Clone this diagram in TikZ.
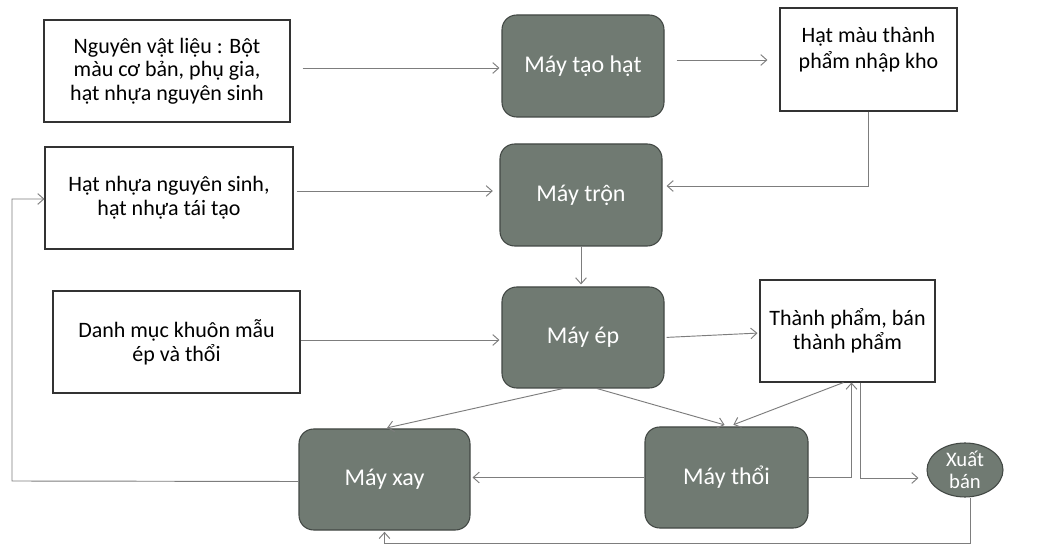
\documentclass[tikz,border=0pt]{standalone}
\usepackage{fontspec}
\setmainfont{Carlito}
\usetikzlibrary{arrows.meta,calc,shapes.geometric}
\definecolor{machfill}{RGB}{112,122,114}
\definecolor{machdraw}{RGB}{66,72,68}
\definecolor{linegray}{RGB}{125,125,125}
\begin{document}
\begin{tikzpicture}[x=0.75pt,y=-0.75pt,
 inbox/.style={draw=black!80, line width=0.8pt, fill=white, inner sep=0pt, align=center, font=\fontsize{16.5}{17.8}\selectfont},
 mach/.style={draw=machdraw, line width=0.8pt, fill=machfill, rounded corners=11pt, inner sep=0pt, align=center, text=white, font=\fontsize{18}{20}\selectfont},
 oval/.style={ellipse, draw=machdraw, line width=0.8pt, fill=machfill, inner sep=0pt, align=center, text=white, font=\fontsize{15.5}{16.5}\selectfont},
 conn/.style={draw=linegray, line width=0.7pt},
 arr/.style={conn, -{Straight Barb[length=4.5pt,width=8pt]}},
]
\useasboundingbox (0,0) rectangle (1040,545);
\fill[white] (0,0) rectangle (1040,545);

% input boxes
\node[inbox, minimum width=184.5pt, minimum height=76.5pt] (nvl) at (167,71)
  {Nguyên vật liệu : Bột\\màu cơ bản, phụ gia,\\hạt nhựa nguyên sinh};
\node[inbox, minimum width=132.75pt, minimum height=77.25pt] (hatmau) at (868.5,59.5) {};
\node[inner sep=0pt, align=center, font=\fontsize{16.5}{19.5}\selectfont] (hatmaut) at (868.5,50)
  {Hạt màu thành\\phẩm nhập kho};
\node[inbox, minimum width=186pt, minimum height=76.5pt] (hatnhua) at (169,198)
  {Hạt nhựa nguyên sinh,\\hạt nhựa tái tạo};
\node[inbox, minimum width=185.25pt, minimum height=76.5pt] (danhmuc) at (176.5,342)
  {Danh mục khuôn mẫu\\ép và thổi};
\node[inbox, minimum width=131.25pt, minimum height=76.5pt] (thanhpham) at (847.5,331)
  {Thành phẩm, bán\\thành phẩm};

% machines
\node[mach, minimum width=121.5pt, minimum height=76.5pt] (mtaohat) at (583,66) {Máy tạo hạt};
\node[mach, minimum width=121.5pt, minimum height=76.5pt] (mtron) at (581,195) {Máy trộn};
\node[mach, minimum width=121.5pt, minimum height=75.75pt] (mep) at (583,337.5) {Máy ép};
\node[mach, minimum width=128.25pt, minimum height=75.75pt] (mxay) at (384.5,479.5) {Máy xay};
\node[mach, minimum width=122.25pt, minimum height=75.75pt] (mthoi) at (726.5,477.5) {Máy thổi};
\node[oval, minimum width=57pt, minimum height=40.5pt] (xuatban) at (965,470) {Xuất\\bán};

\coordinate (lcorner) at (12,481);

% connectors
\draw[arr, shorten <=9pt, shorten >=1.5pt] ($(nvl.east)+(0,-3)$) -- ($(nvl.east -| mtaohat.west)+(0,-3)$);
\draw[arr, shorten <=9pt, shorten >=9pt] ($(mtaohat.east)+(0,-6)$) -- ($(mtaohat.east -| hatmau.west)+(0,-6)$);
\draw[arr] (hatmau.south) |- ($(mtron.east)+(4,-9)$);
\draw[arr, shorten <=2.5pt, shorten >=5pt] ($(hatnhua.east)+(0,-7)$) -- ($(hatnhua.east -| mtron.west)+(0,-7)$);
\draw[arr, shorten >=1.5pt] (mtron.south) -- (mtron.south |- mep.north);
\draw[arr, shorten >=1.5pt] ($(danhmuc.east)+(0,-2)$) -- ($(danhmuc.east -| mep.west)+(0,-2)$);
\draw[arr, shorten <=1.5pt, shorten >=1.5pt] (mep.east) -- ($(thanhpham.west)+(0,2)$);
\draw[arr, shorten >=2pt] ($(mep.south)+(-20,0)$) -- (mxay.north);
\draw[arr, shorten >=1.5pt] ($(mep.south)+(14,0)$) -- ($(mthoi.north)+(0,-1)$);
\draw[arr, shorten >=1.5pt] ($(thanhpham.south)+(-4,0)$) -- ($(mthoi.north)+(5,-1)$);
\draw[arr] (mthoi.east) -| ($(thanhpham.south)+(4,0)$);
\draw[arr, shorten >=6pt] ($(thanhpham.south)+(13,0)$) |- ($(xuatban.west)+(0,8)$);
\draw[arr, shorten >=1.5pt] (mthoi.west) -- (mthoi.west -| mxay.east);
\draw[arr] ($(mxay.west)+(0,2)$) -- (lcorner) |- ($(hatnhua.west)+(0,1)$);
\draw[arr, shorten >=1pt] ($(xuatban.south)+(5,0)$) |- ($(mxay.south)+(0,13)$) -- (mxay.south);
\end{tikzpicture}
\end{document}
